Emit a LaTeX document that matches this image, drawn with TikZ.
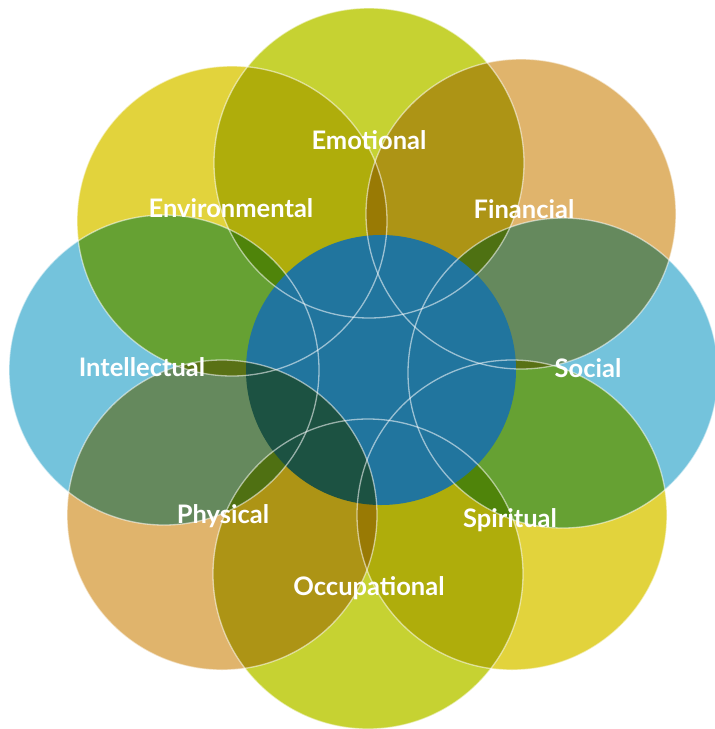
\documentclass[tikz,border=0pt]{standalone}
\usepackage{fontspec}
\setmainfont{Lato}
\usetikzlibrary{positioning}

\definecolor{leaf}{HTML}{C6D232}
\definecolor{sun}{HTML}{E2D33C}
\definecolor{sand}{HTML}{E0B46C}
\definecolor{sky}{HTML}{74C3DC}
\definecolor{deep}{HTML}{21759E}

\begin{document}
\begin{tikzpicture}
		[x=1pt, y=-1pt, ring/.style = {circle, minimum size=310pt, inner sep=0pt},
		rim/.style = {draw=white, draw opacity=0.55, line width=1.3pt},
		word/.style = {anchor=base, text=white, font=\fontsize{25.5}{30}\selectfont\bfseries}]
	\useasboundingbox (0,0) rectangle (715,729);
	\clip (0,0) rectangle (715,729);
	\begin{scope}[blend mode=multiply]
	\node[ring, fill=leaf] (1) at (369,163) {};
	\node[ring, fill=sand] (2) at (521,214) {};
	\node[ring, fill=sky] (3) at (563,373) {};
	\node[ring, fill=sun] (4) at (512,515) {};
	\node[ring, fill=leaf] (5) at (368,574) {};
	\node[ring, fill=sky] (7) at (164,370) {};
	\node[ring, fill=sun] (8) at (232,221) {};
	\end{scope}
	% the hub sits over the others
	\node[circle, minimum size=270pt, inner sep=0pt, fill=deep] (0) at (381,370) {};
	\begin{scope}[blend mode=multiply]
	\node[ring, fill=sand] (6) at (222,515) {};
	\end{scope}
	% thin light rims on top
	\draw[rim] (1.center) circle (155pt);
	\draw[rim] (2.center) circle (155pt);
	\draw[rim] (3.center) circle (155pt);
	\draw[rim] (4.center) circle (155pt);
	\draw[rim] (5.center) circle (155pt);
	\draw[rim] (6.center) circle (155pt);
	\draw[rim] (7.center) circle (155pt);
	\draw[rim] (8.center) circle (155pt);
	\node[word] (t1) at (369,149) {Emotional};
	\node[word] (t2) at (524,218) {Financial};
	\node[word] (t3) at (588,377) {Social};
	\node[word] (t4) at (510,527) {Spiritual};
	\node[word] (t5) at (369,595) {Occupational};
	\node[word] (t6) at (223,523) {Physical};
	\node[word] (t7) at (142,376) {Intellectual};
	\node[word] (t8) at (231,217) {Environmental};
\end{tikzpicture}
\end{document}
